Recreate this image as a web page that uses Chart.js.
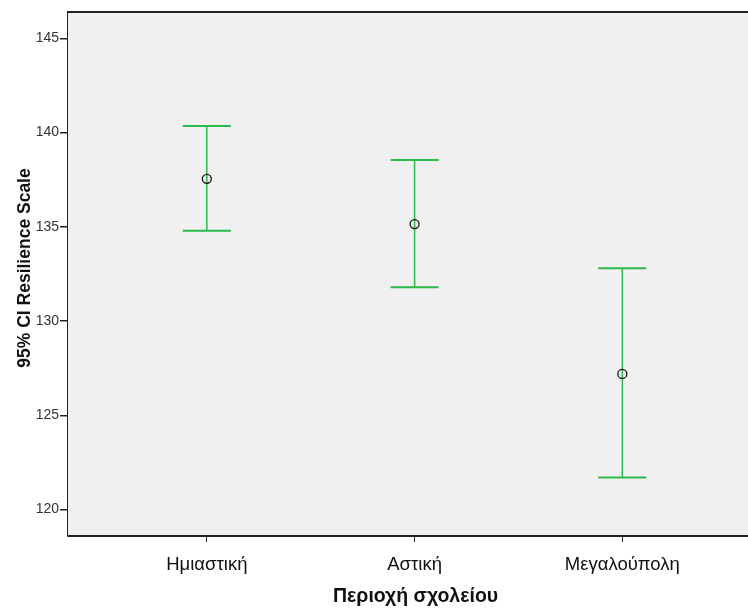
<!DOCTYPE html>
<html>
<head>
<meta charset="utf-8">
<script src="https://cdn.jsdelivr.net/npm/chart.js@4"></script>
<style>
  html, body { margin: 0; padding: 0; background: #fff; }
  #wrap { width: 748px; height: 608px; }
</style>
</head>
<body>
<div id="wrap"><canvas id="ciChart" width="748" height="608"></canvas></div>
<script>
// categories and values
const categories = ['Ημιαστική', 'Αστική', 'Μεγαλούπολη'];
const means = [137.55, 135.15, 127.2];
const lower = [134.8, 131.8, 121.7];
const upper = [140.35, 138.55, 132.8];
const yTicks = [120, 125, 130, 135, 140, 145];

const xTitle = 'Περιοχή σχολείου';
const yTitle = '95% CI Resilience Scale';

const green = '#2cb94b';
const axisColor = '#222';
const fontFamily = 'Liberation Sans, Arial, sans-serif';

// grey plot area, frame, CI whiskers and the two axis titles
const ciPlugin = {
    id: 'ciBars',
    beforeDatasetsDraw(chart) {
        const { ctx, chartArea, scales, width } = chart;
        ctx.save();
        ctx.fillStyle = '#f0f0f0';
        ctx.fillRect(chartArea.left, chartArea.top, width - chartArea.left, chartArea.bottom - chartArea.top);

        ctx.strokeStyle = green;
        means.forEach((m, i) => {
            const x = scales.x.getPixelForValue(i + 1);
            const yl = scales.y.getPixelForValue(lower[i]);
            const yu = scales.y.getPixelForValue(upper[i]);
            const half = 24;
            ctx.lineWidth = 1.5;
            ctx.beginPath();
            ctx.moveTo(x, yu);
            ctx.lineTo(x, yl);
            ctx.stroke();
            ctx.lineWidth = 2;
            ctx.beginPath();
            ctx.moveTo(x - half, yu);
            ctx.lineTo(x + half, yu);
            ctx.moveTo(x - half, yl);
            ctx.lineTo(x + half, yl);
            ctx.stroke();
        });
        ctx.restore();
    },
    afterDraw(chart) {
        const { ctx, chartArea, scales, width } = chart;
        ctx.save();
        // frame: top and bottom run to the canvas edge
        ctx.strokeStyle = axisColor;
        ctx.lineWidth = 2;
        ctx.beginPath();
        ctx.moveTo(chartArea.left, chartArea.top);
        ctx.lineTo(width, chartArea.top);
        ctx.moveTo(chartArea.left, chartArea.bottom);
        ctx.lineTo(width, chartArea.bottom);
        ctx.stroke();

        ctx.fillStyle = '#111';
        ctx.textAlign = 'center';
        ctx.textBaseline = 'middle';
        ctx.font = 'bold 19.5px ' + fontFamily;
        ctx.fillText(xTitle, scales.x.getPixelForValue(2) + 1, 597);
        ctx.translate(25, 268);
        ctx.rotate(-Math.PI / 2);
        ctx.font = 'bold 17.5px ' + fontFamily;
        ctx.fillText(yTitle, 0, 0);
        ctx.restore();
    }
};

const ctx = document.getElementById('ciChart').getContext('2d');
const chart = new Chart(ctx, {
    type: 'scatter',
    data: {
        datasets: [{
            data: means.map((m, i) => ({ x: i + 1, y: m })),
            pointStyle: 'circle',
            pointRadius: 4.5,
            pointBorderWidth: 1.3,
            pointBorderColor: '#111',
            pointBackgroundColor: 'rgba(0,0,0,0)',
            showLine: false
        }]
    },
    options: {
        responsive: false,
        animation: false,
        layout: { padding: { top: 12, right: 0, left: 0, bottom: 0 } },
        plugins: {
            legend: { display: false },
            tooltip: { enabled: false }
        },
        scales: {
            x: {
                type: 'linear',
                min: 0.3317,
                max: 3.577,
                afterBuildTicks: (scale) => { scale.ticks = [1, 2, 3].map(v => ({ value: v })); },
                afterFit: (scale) => { scale.height = 72; },
                border: { display: true, color: axisColor, width: 1.5 },
                grid: { display: true, drawOnChartArea: false, drawTicks: true, tickLength: 6, color: axisColor, lineWidth: 1 },
                ticks: {
                    autoSkip: false,
                    maxRotation: 0,
                    padding: 12,
                    color: '#111',
                    font: { family: fontFamily, size: 18.5 },
                    callback: (v) => categories[v - 1]
                }
            },
            y: {
                min: 118.6,
                max: 146.4,
                afterBuildTicks: (scale) => { scale.ticks = yTicks.map(v => ({ value: v })); },
                afterFit: (scale) => { scale.width = 68; },
                border: { display: true, color: axisColor, width: 2 },
                grid: { display: true, drawOnChartArea: false, drawTicks: true, tickLength: 8, color: axisColor, lineWidth: 1.5 },
                ticks: {
                    padding: 1,
                    color: '#333',
                    font: { family: fontFamily, size: 14 }
                }
            }
        }
    },
    plugins: [ciPlugin]
});
</script>
</body>
</html>
